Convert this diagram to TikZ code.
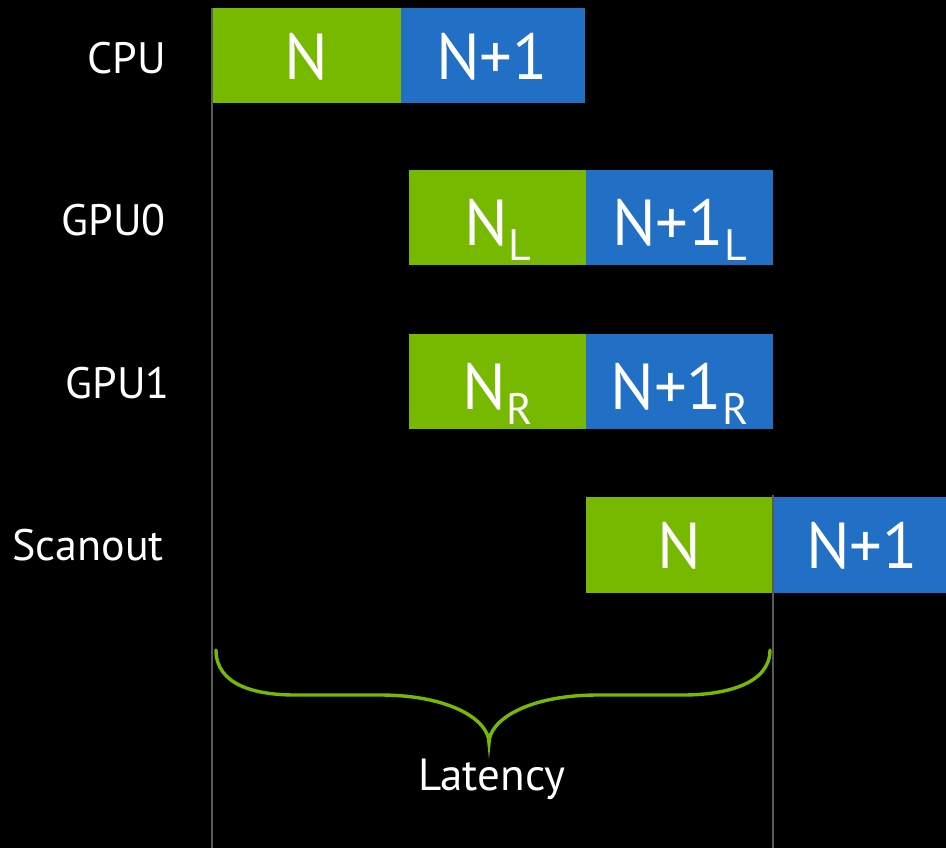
\documentclass[tikz,border=0pt]{standalone}
\usepackage{fontspec}
\setmainfont{PT Sans}
\definecolor{nvgreen}{HTML}{76B900}
\definecolor{nvblue}{HTML}{2270C6}
\definecolor{gridgray}{HTML}{5A5A5A}
\begin{document}
\begin{tikzpicture}[x=1pt,y=-1pt,
  green box/.style={fill=nvgreen,draw=none},
  blue box/.style={fill=nvblue,draw=none},
  boxtext/.style={text=white,font=\fontsize{65}{70}\selectfont,inner sep=0pt,anchor=center},
  rowlabel/.style={text=white,font=\fontsize{44}{48}\selectfont,inner sep=0pt,anchor=east},
  guide/.style={draw=gridgray,line width=1.8pt}]
\fill[black] (0,0) rectangle (946,848);
\useasboundingbox (0,0) rectangle (946,848);
\newcommand{\sub}[1]{\raisebox{-15pt}{\fontsize{44}{48}\selectfont #1}}
% boxes
\fill[green box] (212,8) rectangle (401,103);
\fill[blue box] (401,8) rectangle (585,103);
\fill[green box] (409,170) rectangle (586,265);
\fill[blue box] (586,170) rectangle (773,265);
\fill[green box] (409,334) rectangle (586,429);
\fill[blue box] (586,334) rectangle (773,429);
\fill[green box] (586,497) rectangle (773,593);
\fill[blue box] (773,497) rectangle (946,593);
% guide lines
\coordinate (g1t) at (212,8);
\coordinate (g1b) at (212,848);
\coordinate (g2t) at (773,495);
\coordinate (g2b) at (773,848);
\draw[guide] (g1t) -- (g1b);
\draw[guide] (g2t) -- (g2b);
% box texts
\node[boxtext] (cpuN) at (306.5,57) {N};
\node[boxtext] (cpuN1) at (492,57) {N+1};
\node[boxtext] (g0N) at (497.5,230) {N\sub{L}};
\node[boxtext] (g0N1) at (679.5,230) {N+1\sub{L}};
\node[boxtext] (g1N) at (497.5,394) {N\sub{R}};
\node[boxtext] (g1N1) at (679.5,394) {N+1\sub{R}};
\node[boxtext] (scN) at (679.5,546) {N};
\node[boxtext] (scN1) at (862,546) {N+1};
% row labels
\node[rowlabel] (cpu) at (166,58) {CPU};
\node[rowlabel] (gpu0) at (166,220) {GPU0};
\node[rowlabel] (gpu1) at (170,383) {GPU1};
\node[rowlabel] (scan) at (164,545) {Scanout};
% brace
\draw[nvgreen,line width=3.4pt,line cap=round]
  (216,650) .. controls (216,685) and (255,695) .. (295,695)
  -- (380,695) .. controls (450,695) and (489,720) .. (489,743)
  .. controls (489,720) and (528,695) .. (598,695)
  -- (683,695) .. controls (723,695) and (770,685) .. (770,650);
\node[text=white,font=\fontsize{45}{48}\selectfont,inner sep=0pt] (lat) at (492,779) {Latency};
\end{tikzpicture}
\end{document}
